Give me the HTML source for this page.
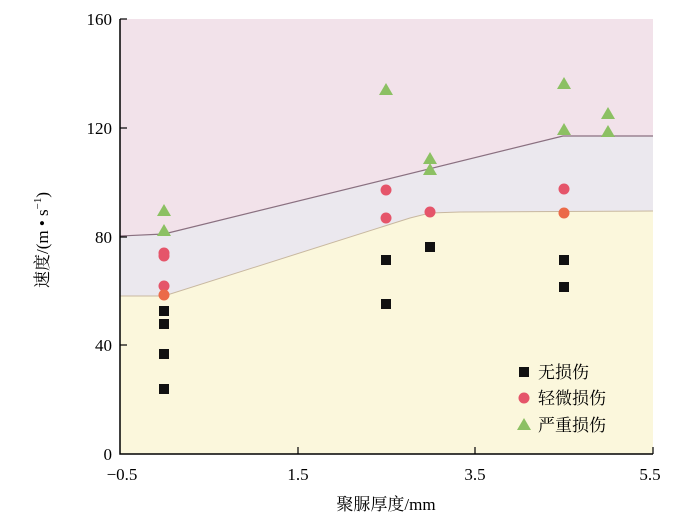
<!DOCTYPE html><html><head><meta charset="utf-8"><style>body{margin:0;background:#fff}svg{display:block}text{font-family:"Liberation Serif","Noto Serif CJK SC",serif;fill:#000}</style></head><body>
<svg width="700" height="518" viewBox="0 0 700 518">
<rect x="120" y="19" width="533" height="435" fill="#f2e2ea"/>
<polygon points="120,236 164,234 563,136 653,136 653,454 120,454" fill="#ebe8ee"/>
<polygon points="120,296 164,296 410,218 430,213 460,212 653,211 653,454 120,454" fill="#fbf7dc"/>
<polyline points="120,236 164,234 563,136 653,136" fill="none" stroke="#8a7080" stroke-width="1.2"/>
<polyline points="120,296 164,296 410,218 430,213 460,212 653,211" fill="none" stroke="#c8b8a0" stroke-width="1"/>
<g fill="#111">
<rect x="159" y="306" width="10" height="10"/><rect x="159" y="319" width="10" height="10"/><rect x="159" y="349" width="10" height="10"/><rect x="159" y="384" width="10" height="10"/>
<rect x="381" y="255" width="10" height="10"/><rect x="381" y="299" width="10" height="10"/><rect x="425" y="242" width="10" height="10"/>
<rect x="559" y="255" width="10" height="10"/><rect x="559" y="282" width="10" height="10"/>
</g>
<g fill="#e5556a">
<circle cx="164" cy="253" r="5.5"/><circle cx="164" cy="256" r="5.5"/><circle cx="164" cy="286" r="5.5"/>
<circle cx="386" cy="190" r="5.5"/><circle cx="386" cy="218" r="5.5"/><circle cx="430" cy="212" r="5.5"/><circle cx="564" cy="189" r="5.5"/>
</g>
<g fill="#eb6a48"><circle cx="164" cy="295" r="5.5"/><circle cx="564" cy="213" r="5.5"/></g>
<g fill="#8cc063">
<polygon points="164,204 157,216 171,216"/><polygon points="164,224 157,236 171,236"/>
<polygon points="386,83 379,95 393,95"/><polygon points="430,152 423,164 437,164"/><polygon points="430,163 423,175 437,175"/>
<polygon points="564,77 557,89 571,89"/><polygon points="564,123 557,135 571,135"/><polygon points="608,107 601,119 615,119"/><polygon points="608,125 601,137 615,137"/>
</g>
<polyline points="120,19 120,454 653,454" fill="none" stroke="#000" stroke-width="1.5"/>
<g stroke="#000" stroke-width="1.2">
<line x1="120" y1="19" x2="127" y2="19"/><line x1="120" y1="128" x2="127" y2="128"/><line x1="120" y1="237" x2="127" y2="237"/><line x1="120" y1="345" x2="127" y2="345"/>
<line x1="298" y1="454" x2="298" y2="447"/><line x1="475" y1="454" x2="475" y2="447"/><line x1="653" y1="454" x2="653" y2="447"/>
</g>
<g font-size="17" text-anchor="end">
<text x="112" y="25">160</text><text x="112" y="134">120</text><text x="112" y="243">80</text><text x="112" y="351">40</text><text x="112" y="460">0</text>
</g>
<g font-size="17" text-anchor="middle">
<text x="122" y="480">−0.5</text><text x="298" y="480">1.5</text><text x="475" y="480">3.5</text><text x="650" y="480">5.5</text>
<text x="386" y="510">聚脲厚度/mm</text>
</g>
<text font-size="17" transform="translate(48,240) rotate(-90)" text-anchor="middle">速度/(m • s<tspan font-size="11" dy="-7">−1</tspan><tspan dy="7">)</tspan></text>
<rect x="519" y="367" width="10" height="10" fill="#111"/>
<circle cx="524" cy="398" r="5.5" fill="#e5556a"/>
<polygon points="524,418 517,430 531,430" fill="#8cc063"/>
<g font-size="17"><text x="538" y="378">无损伤</text><text x="538" y="404">轻微损伤</text><text x="538" y="431">严重损伤</text></g>
</svg></body></html>
